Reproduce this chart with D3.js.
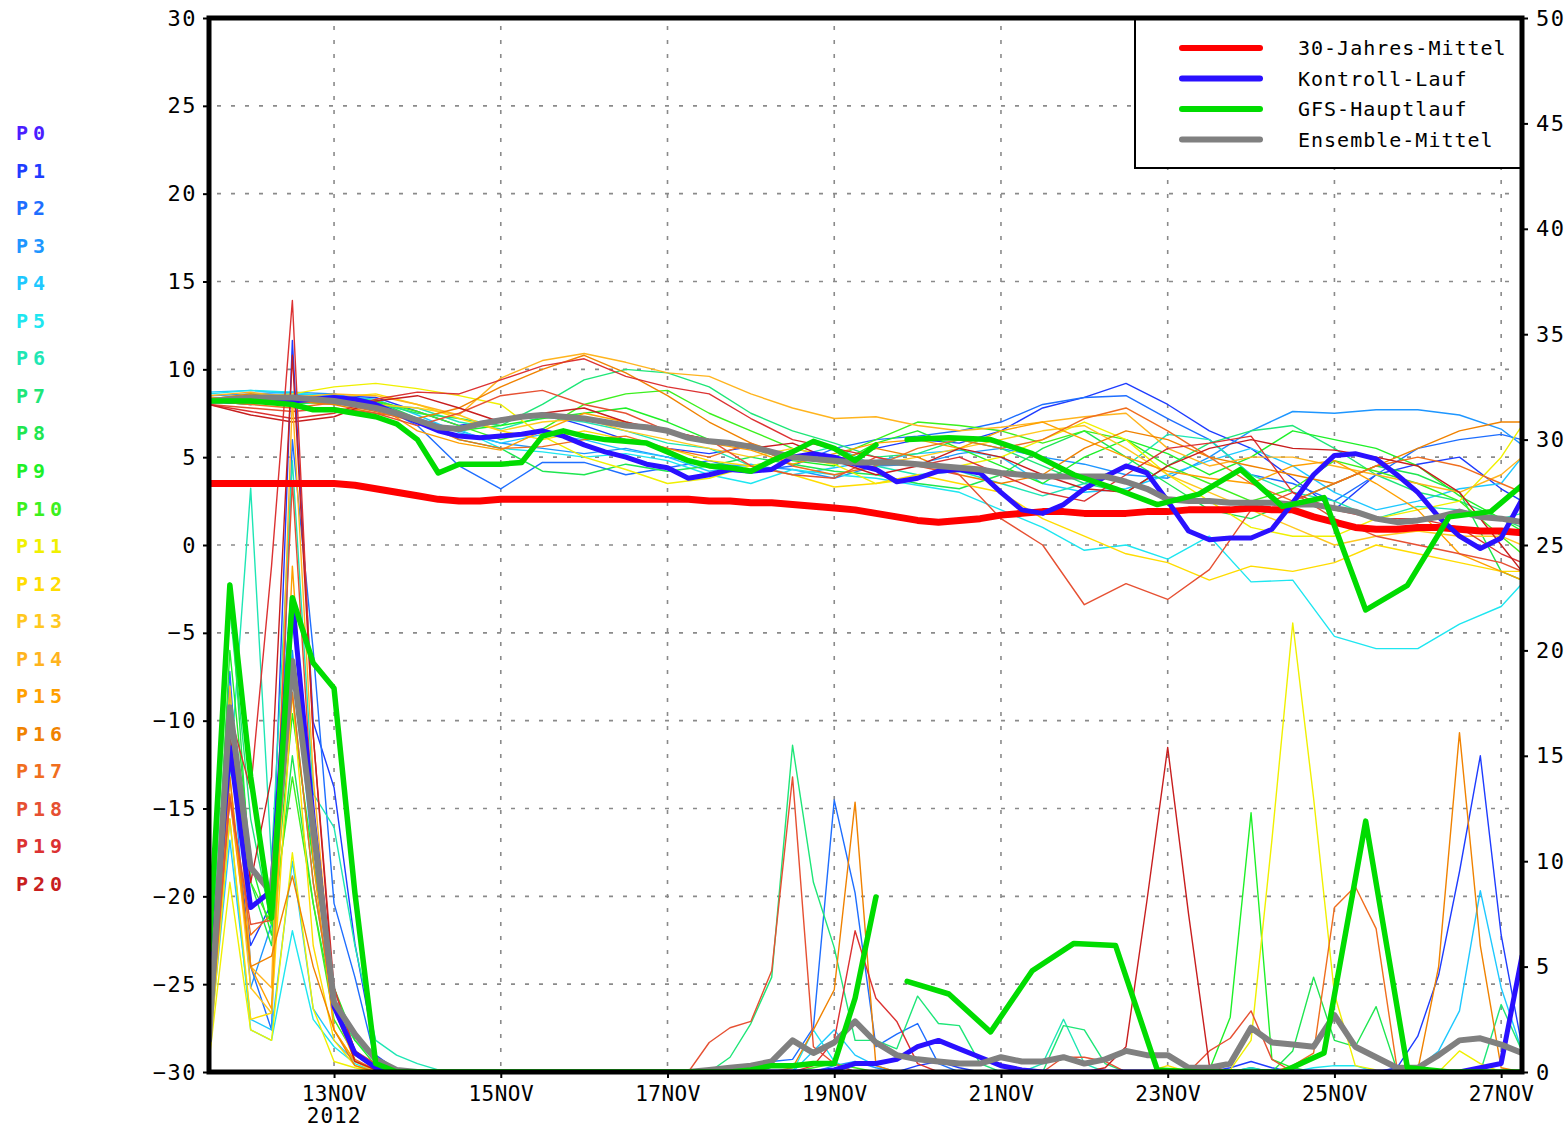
<!DOCTYPE html>
<html>
<head>
<meta charset="utf-8">
<script src="https://cdn.jsdelivr.net/npm/d3@7"></script>
<style>
  body { margin: 0; background: #fff; }
  svg { display: block; }
  text { font-family: 'DejaVu Sans Mono', 'Liberation Mono', monospace; }
</style>
</head>
<body>
<svg id="chart" width="1566" height="1128"></svg>
<script>
// run start 11NOV2012 12Z, 6-hourly steps up to +378h
const runStart = Date.UTC(2012, 10, 11, 12)
const hour = 3600 * 1000
const stepHours = d3.range(0, 379, 6)
const memberHours = d3.range(0, 373, 12).concat([378])
const gfsHours = d3.range(0, 193, 6).concat(d3.range(201, 382, 12))

const dayLabels = ['13NOV', '15NOV', '17NOV', '19NOV', '21NOV', '23NOV', '25NOV', '27NOV']
const dayDates = [13, 15, 17, 19, 21, 23, 25, 27].map(d => new Date(Date.UTC(2012, 10, d)))
const tempTicks = [-30, -25, -20, -15, -10, -5, 0, 5, 10, 15, 20, 25, 30]
const rainTicks = [0, 5, 10, 15, 20, 25, 30, 35, 40, 45, 50]

const legendLabels = ['30-Jahres-Mittel', 'Kontroll-Lauf', 'GFS-Hauptlauf', 'Ensemble-Mittel']
const memberColors = ['#4b1eff', '#1e3cff', '#1e6eff', '#1e96ff', '#1ec8ff', '#1ee6f0', '#1ee6b4',
  '#1ee678', '#1ee650', '#1ef028', '#3cf01e', '#f0f000', '#ffdc00', '#ffc81e', '#ffb41e',
  '#ffa000', '#f08200', '#f06e1e', '#e65032', '#dc3232', '#c81e1e']

// main lines, 6-hourly
const climTemp = [3.5, 3.5, 3.5, 3.5, 3.5, 3.5, 3.5, 3.4, 3.2, 3.0, 2.8, 2.6, 2.5, 2.5, 2.6, 2.6,
  2.6, 2.6, 2.6, 2.6, 2.6, 2.6, 2.6, 2.6, 2.5, 2.5, 2.4, 2.4, 2.3, 2.2, 2.1, 2.0,
  1.8, 1.6, 1.4, 1.3, 1.4, 1.5, 1.7, 1.8, 1.9, 1.9, 1.8, 1.8, 1.8, 1.9, 1.9, 2.0,
  2.0, 2.0, 2.1, 2.0, 2.0, 1.6, 1.3, 1.0, 0.9, 0.9, 1.0, 1.0, 0.9, 0.8, 0.8, 0.7]
const ctrlTemp = [8.2, 8.2, 8.3, 8.4, 8.2, 8.3, 8.4, 8.3, 8.0, 7.5, 7.0, 6.5, 6.2, 6.1, 6.2, 6.3,
  6.5, 6.2, 5.7, 5.3, 5.0, 4.6, 4.4, 3.8, 4.0, 4.3, 4.2, 4.3, 5.0, 5.2, 5.0, 4.6,
  4.3, 3.6, 3.8, 4.2, 4.3, 4.1, 3.0, 2.0, 1.8, 2.3, 3.2, 3.9, 4.5, 4.1, 2.5, 0.8,
  0.3, 0.4, 0.4, 0.9, 2.4, 4.0, 5.1, 5.2, 4.9, 4.0, 3.0, 1.6, 0.5, -0.2, 0.4, 2.6]
const ctrlRain = [3.3, 15.4, 7.8, 8.6, 22.4, 12, 3.1, 0.9, 0.2, 0, 0, 0, 0, 0, 0, 0,
  0, 0, 0, 0, 0, 0, 0, 0, 0, 0, 0, 0, 0, 0, 0.1, 0.4,
  0.4, 0.6, 1.2, 1.5, 1.1, 0.7, 0.3, 0.1, 0, 0, 0, 0, 0, 0, 0, 0,
  0, 0, 0, 0, 0, 0, 0, 0, 0, 0, 0, 0, 0, 0.2, 0.4, 5.5]
const meanTemp = [8.2, 8.3, 8.4, 8.4, 8.4, 8.3, 8.2, 8.0, 7.8, 7.5, 7.1, 6.7, 6.6, 6.9, 7.1, 7.3,
  7.4, 7.3, 7.2, 7.0, 6.8, 6.7, 6.5, 6.1, 5.9, 5.8, 5.6, 5.3, 5.0, 4.9, 4.8, 4.7,
  4.7, 4.7, 4.6, 4.5, 4.4, 4.3, 4.1, 4.0, 3.9, 3.9, 3.9, 3.9, 3.6, 3.2, 2.6, 2.5,
  2.5, 2.4, 2.4, 2.4, 2.3, 2.3, 2.1, 1.9, 1.5, 1.3, 1.4, 1.6, 1.9, 1.6, 1.5, 1.3]
const meanRain = [1.5, 17.3, 9.7, 8.5, 19.5, 11.6, 3.3, 1.8, 0.6, 0.1, 0, 0, 0, 0, 0, 0,
  0, 0, 0, 0, 0, 0, 0, 0, 0.1, 0.2, 0.3, 0.5, 1.5, 0.9, 1.4, 2.4,
  1.4, 0.8, 0.6, 0.5, 0.4, 0.4, 0.7, 0.5, 0.5, 0.7, 0.4, 0.6, 1.0, 0.8, 0.8, 0.2,
  0.2, 0.4, 2.1, 1.4, 1.3, 1.2, 2.7, 1.2, 0.7, 0.2, 0.2, 0.8, 1.5, 1.6, 1.3, 0.9]

// GFS main run: 6-hourly to +192h, 12-hourly after
const gfsTemp = [8.2, 8.2, 8.2, 8.1, 8.0, 7.7, 7.7, 7.5, 7.3, 6.9, 6.0, 4.1, 4.6, 4.6, 4.6, 4.7,
  6.2, 6.5, 6.2, 6.0, 5.9, 5.8, 5.3, 4.8, 4.5, 4.4, 4.2, 4.8, 5.3, 5.9, 5.5, 4.8, 5.7,
  6.0, 6.1, 6.0, 5.2, 4.0, 3.2, 2.3, 2.9, 4.3, 2.2, 2.7, -3.7, -2.3, 1.6, 1.9, 3.9]
const gfsRain = [5.8, 23.1, 14, 7.3, 22.5, 19.4, 18.2, 8.5, 0.4, 0, 0, 0, 0, 0, 0, 0,
  0, 0, 0, 0, 0, 0, 0, 0, 0, 0, 0.1, 0.3, 0.3, 0.4, 0.4, 3.5, 8.3,
  4.3, 3.7, 1.9, 4.8, 6.1, 6.0, 0.1, 0, 0, 0, 0.9, 11.9, 0.2, 0, 0, 0]

// members, temperature 12-hourly (+378h last)
const p1Temp = [8.2, 8.0, 8.3, 8.5, 8.4, 7.6, 6.8, 7.2, 7.5, 6.8, 6.0, 5.5, 5.2, 5.6, 5.0, 4.8,
  5.5, 6.0, 5.8, 6.5, 7.8, 8.4, 9.2, 8.0, 6.5, 5.5, 3.8, 2.0, 4.0, 4.6, 5.0, 3.2, 2.5]
const p2Temp = [8.3, 8.1, 8.2, 8.6, 8.0, 6.8, 4.5, 3.2, 4.7, 4.7, 4.0, 4.4, 4.8, 4.2, 4.5, 5.5,
  6.0, 6.2, 6.5, 7.0, 8.0, 8.4, 8.5, 7.2, 6.0, 4.0, 3.5, 2.5, 4.0, 5.5, 6.0, 6.3, 6.0]
const p3Temp = [8.5, 8.6, 8.7, 8.6, 8.0, 7.2, 6.5, 5.8, 5.5, 5.2, 5.5, 5.0, 4.6, 4.5, 4.3, 3.8,
  4.5, 4.6, 5.2, 5.5, 5.0, 4.6, 4.0, 3.8, 5.0, 6.5, 7.6, 7.5, 7.7, 7.7, 7.4, 6.6, 5.7]
const p4Temp = [8.7, 8.8, 8.6, 8.5, 8.3, 7.4, 6.4, 5.8, 6.3, 6.0, 5.4, 5.0, 4.2, 4.6, 4.0, 4.4,
  4.8, 5.2, 5.4, 5.0, 3.5, 3.0, 3.2, 4.0, 4.8, 5.5, 4.5, 3.0, 2.0, 2.5, 3.2, 3.5, 5.0]
const p5Temp = [8.6, 8.8, 8.7, 8.4, 8.2, 7.0, 6.6, 5.5, 5.3, 5.0, 5.2, 4.8, 4.0, 3.5, 4.3, 4.0,
  3.8, 3.4, 3.0, 2.0, 1.0, -0.3, 0.0, -0.8, 0.5, -2.1, -2.0, -5.2, -5.9, -5.9, -4.5, -3.5, -2.2]
const p6Temp = [8.3, 8.5, 8.0, 8.2, 8.0, 7.8, 7.0, 6.6, 7.3, 7.0, 6.5, 5.8, 5.5, 4.5, 5.0, 5.6,
  4.5, 4.0, 4.2, 3.5, 2.8, 3.5, 4.5, 6.3, 6.0, 4.0, 3.0, 2.5, 1.5, 2.2, 2.0, 1.5, 1.8]
const p7Temp = [8.2, 8.0, 8.4, 8.3, 8.1, 7.5, 7.2, 6.8, 8.0, 9.4, 10.0, 9.8, 9.0, 7.5, 6.5, 5.8,
  5.0, 5.2, 6.0, 5.5, 4.5, 3.5, 3.0, 4.5, 5.8, 6.5, 6.8, 5.5, 4.0, 3.0, 2.5, 1.5, 1.0]
const p8Temp = [8.2, 8.3, 8.1, 8.5, 8.2, 7.2, 6.0, 5.5, 4.2, 4.0, 4.6, 4.2, 4.5, 5.0, 4.6, 4.2,
  4.0, 3.5, 3.2, 4.0, 5.5, 6.5, 5.0, 3.5, 2.0, 1.5, 2.5, 3.5, 4.5, 4.0, 3.0, -1.5, -2.0]
const p9Temp = [8.4, 8.2, 8.0, 8.3, 7.8, 7.0, 6.5, 6.8, 7.2, 7.5, 7.8, 7.0, 6.0, 5.5, 4.8, 4.5,
  5.8, 6.5, 5.5, 4.5, 3.5, 5.0, 6.0, 5.2, 4.0, 5.0, 6.5, 6.0, 5.5, 4.5, 2.8, 1.5, 0.8]
const p10Temp = [8.3, 8.4, 8.2, 8.0, 8.2, 7.6, 6.8, 6.0, 6.6, 8.0, 8.6, 8.8, 7.5, 6.5, 5.5, 5.0,
  6.0, 7.0, 6.8, 6.5, 5.8, 6.5, 6.0, 4.5, 3.5, 2.5, 3.2, 4.8, 4.2, 3.5, 2.5, 0.5, -0.5]
const p11Temp = [8.2, 8.4, 8.6, 9.0, 9.2, 8.9, 8.5, 8.0, 6.2, 5.0, 4.3, 3.5, 3.8, 4.5, 5.0, 4.6,
  3.5, 3.8, 4.5, 5.0, 6.0, 7.0, 6.0, 4.0, 2.5, 1.0, 0.5, 0.5, 1.5, 2.0, 2.5, 5.0, 6.8]
const p12Temp = [8.1, 8.5, 8.3, 8.4, 8.6, 8.0, 7.2, 6.5, 6.0, 6.5, 6.0, 5.5, 4.8, 4.5, 4.0, 3.3,
  3.5, 4.0, 3.5, 3.0, 1.5, 0.5, -0.5, -1.0, -2.0, -1.2, -1.5, -1.0, 0.0, -0.5, -1.0, -1.5, -1.5]
const p13Temp = [8.3, 8.6, 8.5, 8.3, 8.0, 7.8, 7.4, 6.5, 7.0, 7.2, 6.5, 6.0, 5.5, 5.0, 5.5, 5.0,
  4.6, 5.0, 5.5, 6.0, 6.5, 6.8, 5.5, 4.0, 3.0, 2.0, 1.0, 0.0, 0.5, 0.8, 0.5, 0.5, 0.0]
const p14Temp = [8.5, 8.7, 8.4, 8.6, 8.5, 8.0, 7.4, 9.5, 10.5, 10.9, 10.4, 9.8, 9.6, 8.6, 7.8, 7.2,
  7.3, 6.8, 6.5, 6.7, 7.0, 7.3, 7.5, 5.5, 4.5, 5.0, 5.0, 4.5, 4.0, 3.5, 3.0, 4.0, 5.0]
const p15Temp = [8.4, 8.3, 8.5, 8.4, 8.0, 6.5, 5.8, 5.4, 6.5, 7.5, 7.0, 6.4, 5.8, 5.4, 4.6, 5.2,
  5.8, 6.0, 5.5, 6.5, 7.0, 6.0, 5.0, 4.2, 3.8, 3.5, 4.5, 4.8, 3.5, 2.0, -0.5, -1.5, -2.0]
const p16Temp = [8.3, 8.6, 8.2, 8.0, 7.5, 7.2, 7.8, 9.0, 10.0, 10.8, 9.8, 8.5, 7.0, 5.8, 5.0, 4.8,
  5.5, 5.0, 4.0, 3.5, 4.0, 5.5, 6.5, 6.0, 5.0, 4.5, 4.0, 3.5, 4.5, 5.5, 6.5, 7.0, 7.0]
const p17Temp = [8.2, 8.0, 7.8, 8.1, 7.6, 7.0, 6.0, 5.5, 5.6, 6.0, 6.2, 5.5, 5.0, 5.8, 4.5, 4.0,
  4.5, 5.5, 6.0, 5.5, 6.0, 7.2, 7.8, 6.5, 5.0, 3.5, 2.5, 3.5, 4.5, 5.0, 4.5, 3.5, 3.0]
const p18Temp = [8.0, 7.8, 7.6, 7.8, 7.5, 6.8, 7.5, 8.5, 8.8, 8.0, 7.5, 6.5, 6.0, 4.5, 4.0, 3.8,
  5.0, 4.5, 4.0, 1.5, 0.0, -3.4, -2.2, -3.1, -1.4, 2.0, 3.0, 1.5, 0.5, 0.0, -0.5, -1.0, -1.5]
const p19Temp = [8.0, 7.6, 7.2, 7.5, 8.3, 8.7, 8.6, 9.4, 10.2, 10.6, 9.6, 9.0, 8.6, 7.2, 6.0, 5.5,
  5.0, 4.5, 5.0, 4.0, 3.0, 2.5, 4.0, 5.5, 5.8, 6.2, 3.0, 2.0, 1.5, 1.5, 1.0, -0.5, -1.0]
const p20Temp = [8.0, 7.4, 7.0, 7.3, 8.2, 8.5, 7.8, 7.0, 7.5, 7.8, 7.0, 6.5, 6.0, 5.5, 5.8, 4.8,
  4.0, 4.5, 5.5, 5.0, 4.0, 3.2, 3.0, 4.5, 5.5, 6.0, 5.5, 5.4, 5.0, 4.5, 3.0, 0.0, -1.5]

// members, precipitation 6-hourly
const p1Rain = [1.0, 13, 6, 8, 34.7, 16.6, 13.5, 6.1, 0.8, 0.1, 0, 0, 0, 0, 0, 0,
  0, 0, 0, 0, 0, 0, 0, 0, 0, 0, 0, 0, 0, 0, 0, 0,
  0, 0, 0.3, 0.5, 0.2, 0, 0, 0, 0, 0, 0, 0, 0, 0, 0, 0,
  0, 0.2, 0.5, 0.2, 0, 0, 0, 0, 0, 0.2, 1.7, 4.6, 9.5, 15.0, 6.5, 1.2]
const p2Rain = [1.5, 19, 5, 2, 30, 20, 8, 4.5, 0.5, 0, 0, 0, 0, 0, 0, 0,
  0, 0, 0, 0, 0, 0, 0, 0, 0, 0, 0, 0.5, 0.6, 2.1, 12.9, 8.5,
  1.2, 1.8, 2.3, 0.4, 0, 0, 0, 0, 0, 0, 0, 0, 0, 0, 0, 0,
  0, 0, 0.2, 0, 0, 0, 0, 0, 0, 0, 0, 0, 0, 0, 0, 0]
const p3Rain = [0.5, 16, 4, 7, 20, 10, 4, 1.0, 0.2, 0, 0, 0, 0, 0, 0, 0,
  0, 0, 0, 0, 0, 0, 0, 0, 0, 0, 0, 0, 0, 0, 0.3, 0.5,
  0.2, 0, 0, 0, 0, 0, 0, 0, 0, 0, 0, 0, 0, 0, 0, 0,
  0, 0, 0, 0, 0, 0, 0, 0, 0, 0, 0, 0, 0, 0, 0, 0]
const p4Rain = [1.0, 11, 2.5, 2.0, 10, 3, 1.5, 0.5, 0.1, 0, 0, 0, 0, 0, 0, 0,
  0, 0, 0, 0, 0, 0, 0, 0, 0, 0, 0, 0, 0, 1.0, 2.0, 0.8,
  0.3, 0, 0, 0, 0, 0, 0, 0, 0, 0, 0, 0, 0, 0, 0, 0,
  0, 0, 0, 0, 0, 0, 0, 0, 0, 0, 0.2, 1.0, 2.9, 8.6, 4.0, 1.0]
const p5Rain = [1.0, 12, 2, 1.5, 6.7, 2.5, 1.2, 0.4, 0, 0, 0, 0, 0, 0, 0, 0,
  0, 0, 0, 0, 0, 0, 0, 0, 0, 0, 0, 0, 0, 2.0, 0.5, 0,
  0, 0, 0, 0, 0, 0, 0, 0, 0, 0, 0, 0, 0, 0, 0, 0,
  0, 0, 0, 0, 0, 0.2, 0.3, 0.3, 0, 0, 0, 0, 0, 0, 0, 0]
const p6Rain = [2, 14, 27.7, 10, 29, 13.2, 11.6, 6.0, 1.5, 0.8, 0.4, 0.1, 0, 0, 0, 0,
  0, 0, 0, 0, 0, 0, 0, 0, 0, 0, 0, 0, 0, 0, 0, 0,
  0, 0, 0, 0, 0, 0, 0, 0, 0.4, 2.5, 0.4, 0, 0, 0, 0, 0,
  0, 0, 0.2, 0, 0, 0, 0, 0, 0, 0, 0, 0, 0, 0, 0, 0]
const p7Rain = [3, 22, 12, 7, 18, 9, 3, 1.5, 0.5, 0, 0, 0, 0, 0, 0, 0,
  0, 0, 0, 0, 0, 0, 0, 0, 0, 0.7, 2.3, 4.5, 15.5, 9.0, 5.9, 1.5,
  1.5, 1.1, 3.6, 2.3, 2.2, 0.4, 0, 0, 0, 2.2, 2.0, 0.4, 0, 0, 0, 0,
  0, 0, 0, 0, 0, 0, 0, 0, 0, 0, 0, 0, 0, 0, 3.2, 1.0]
const p8Rain = [5, 23.2, 9, 6, 15, 8, 3, 1.0, 0.3, 0, 0, 0, 0, 0, 0, 0,
  0, 0, 0, 0, 0, 0, 0, 0, 0, 0, 0, 0, 0, 0, 0, 0,
  0, 0, 0, 0, 0, 0, 0, 0, 0, 0, 0, 0, 0, 0, 0, 0,
  0, 0, 0, 0, 1.0, 4.5, 1.5, 1.2, 3.1, 0.1, 0, 0, 0, 0, 0, 0]
const p9Rain = [2, 20, 10, 6.5, 17, 10, 4, 1.5, 0.3, 0, 0, 0, 0, 0, 0, 0,
  0, 0, 0, 0, 0, 0, 0, 0, 0, 0, 0, 0, 0, 0, 0, 0,
  0, 0, 0, 0, 0, 0, 0, 0, 0, 0, 0, 0, 0, 0, 0, 0,
  0.1, 2.6, 12.3, 0.6, 0.2, 0, 0, 0, 0, 0, 0, 0, 0, 0, 0, 0]
const p10Rain = [3, 18, 9, 7, 14, 8, 2.5, 0.8, 0.2, 0, 0, 0, 0, 0, 0, 0,
  0, 0, 0, 0, 0, 0, 0, 0, 0, 0, 0, 0, 0, 0.2, 0.4, 0.2,
  0, 0, 0, 0, 0, 0, 0, 0, 0, 0, 0, 0, 0, 0, 0, 0,
  0, 0, 0, 0, 0, 0, 0, 0, 0, 0, 0, 0, 0, 0, 0, 0]
const p11Rain = [0.5, 9, 2, 1.5, 10.4, 3, 0.5, 0.2, 0, 0, 0, 0, 0, 0, 0, 0,
  0, 0, 0, 0, 0, 0, 0, 0, 0, 0, 0, 0, 0, 0, 0, 0,
  0, 0, 0, 0, 0, 0, 0, 0, 0, 0, 0, 0, 0, 0, 0, 0,
  0, 0.1, 1.5, 11, 21.3, 13, 3.7, 0.3, 0.1, 0, 0, 0, 1.0, 0.4, 0, 0]
const p12Rain = [0.5, 12, 2.5, 2.8, 18, 6, 1.5, 0.3, 0, 0, 0, 0, 0, 0, 0, 0,
  0, 0, 0, 0, 0, 0, 0, 0, 0, 0, 0, 0, 0, 0, 0, 0,
  0, 0, 0, 0, 0, 0, 0, 0, 0, 0, 0, 0, 0, 0, 0.3, 0,
  0, 0, 0, 0, 0, 0, 0, 0, 0, 0, 0, 0, 0, 0, 0, 0]
const p13Rain = [1, 14, 4, 2.8, 22, 12, 2, 0.5, 0, 0, 0, 0, 0, 0, 0, 0,
  0, 0, 0, 0, 0, 0, 0, 0, 0, 0, 0, 0, 0, 0, 0, 0,
  0, 0, 0, 0, 0, 0, 0, 0, 0, 0, 0, 0, 0, 0, 0, 0,
  0, 0, 0, 0, 0, 0, 0, 0, 0, 0, 0, 0, 0, 0, 0, 0]
const p14Rain = [1, 18.3, 5, 4, 32, 14, 3, 0.5, 0.1, 0, 0, 0, 0, 0, 0, 0,
  0, 0, 0, 0, 0, 0, 0, 0, 0, 0, 0, 0, 0, 0, 0, 0,
  0, 0, 0, 0, 0, 0, 0, 0, 0, 0, 0, 0, 0, 0, 0, 0,
  0, 0, 0, 0, 0, 0, 0, 0, 0, 0, 0, 0, 0, 0, 0, 0]
const p15Rain = [1, 13, 5, 3, 24, 10, 2, 0.5, 0.1, 0, 0, 0, 0, 0, 0, 0,
  0, 0, 0, 0, 0, 0, 0, 0, 0, 0, 0, 0, 0, 0, 0, 0,
  0, 0, 0, 0, 0, 0, 0, 0, 0, 0, 0, 0, 0, 0, 0, 0,
  0, 0, 0, 0, 0, 0, 0, 0, 0, 0, 0, 0, 0, 0, 0, 0]
const p16Rain = [1, 14, 5, 5.5, 9.3, 5, 2, 0.3, 0, 0, 0, 0, 0, 0, 0, 0,
  0, 0, 0, 0, 0, 0, 0, 0, 0, 0, 0, 0, 0.2, 2.0, 3.9, 12.8,
  0.3, 0, 0, 0, 0, 0, 0, 0, 0, 0, 0, 0, 0, 0, 0, 0,
  0, 0, 0, 0, 0, 0, 0, 0, 0, 0, 0.1, 5.0, 16.1, 6.0, 0.2, 0]
const p17Rain = [1, 13.2, 6.5, 7.5, 18, 9, 3, 0.6, 0.1, 0, 0, 0, 0, 0, 0, 0,
  0, 0, 0, 0, 0, 0, 0, 0, 0, 0, 0, 0, 0, 0, 0, 0,
  0, 0, 0, 0, 0, 0, 0, 0, 0, 0, 0, 0, 0, 0, 0, 0,
  0, 0, 0, 0, 0.3, 0.9, 7.8, 8.8, 6.8, 0.2, 0, 0, 0, 0, 0, 0]
const p18Rain = [1.5, 13, 7, 7.2, 28, 12, 4, 1.0, 0.4, 0, 0, 0, 0, 0, 0, 0,
  0, 0, 0, 0, 0, 0, 0, 0, 1.4, 2.1, 2.4, 4.8, 14.0, 1.2, 0.4, 0,
  0, 0, 0, 0, 0, 0, 0, 0, 0, 0.7, 0.7, 0.5, 0, 0, 0, 0,
  1.0, 1.6, 2.9, 0.6, 0, 0, 0, 0, 0, 0, 0, 0, 0, 0, 0, 0]
const p19Rain = [2, 17, 13.4, 24, 36.6, 16, 4, 1, 0.2, 0, 0, 0, 0, 0, 0, 0,
  0, 0, 0, 0, 0, 0, 0, 0, 0, 0, 0, 0, 0, 0.3, 1.5, 6.7,
  3.5, 2.4, 0.4, 0, 0, 0, 0, 0, 0, 0, 0, 0, 0, 0, 0, 0,
  0, 0, 0, 0, 0, 0, 0, 0, 0, 0, 0, 0, 0, 0, 0, 0]
const p20Rain = [1.5, 16, 9, 14, 34, 16, 3.5, 0.5, 0.1, 0, 0, 0, 0, 0, 0, 0,
  0, 0, 0, 0, 0, 0, 0, 0, 0, 0, 0, 0, 0, 0, 0, 0,
  0, 0, 0, 0, 0, 0, 0, 0, 0, 0, 0, 0.2, 1.2, 8.1, 15.4, 7.5,
  0.3, 0, 0, 0, 0, 0, 0, 0, 0, 0, 0, 0, 0, 0, 0, 0]

const memberTemps = [p1Temp, p2Temp, p3Temp, p4Temp, p5Temp, p6Temp, p7Temp, p8Temp, p9Temp, p10Temp,
  p11Temp, p12Temp, p13Temp, p14Temp, p15Temp, p16Temp, p17Temp, p18Temp, p19Temp, p20Temp]
const memberRains = [p1Rain, p2Rain, p3Rain, p4Rain, p5Rain, p6Rain, p7Rain, p8Rain, p9Rain, p10Rain,
  p11Rain, p12Rain, p13Rain, p14Rain, p15Rain, p16Rain, p17Rain, p18Rain, p19Rain, p20Rain]

const plotLeft = 209
const plotRight = 1522
const plotTop = 18
const plotBottom = 1072

const svg = d3.select('#chart')

const x = d3.scaleUtc()
  .domain([new Date(runStart), new Date(runStart + 378 * hour)])
  .range([plotLeft, plotRight])
const yT = d3.scaleLinear().domain([-30, 30]).range([plotBottom, plotTop])
const yP = d3.scaleLinear().domain([0, 50]).range([plotBottom, plotTop])

function seriesLine(hours, scale) {
  return d3.line()
    .x((d, i) => x(new Date(runStart + hours[i] * hour)))
    .y(d => scale(d))
}

svg.append('defs').append('clipPath')
  .attr('id', 'plot-clip')
  .append('rect')
  .attr('x', plotLeft)
  .attr('y', plotTop)
  .attr('width', plotRight - plotLeft)
  .attr('height', plotBottom - plotTop)

// grid
const grid = svg.append('g')
grid.selectAll('.hgrid')
  .data(tempTicks.filter(t => t > -30 && t < 30))
  .enter().append('line')
  .attr('x1', plotLeft + 8)
  .attr('x2', plotRight - 6)
  .attr('y1', d => yT(d))
  .attr('y2', d => yT(d))
  .attr('stroke', '#8a8a8a')
  .attr('stroke-width', 1.6)
  .attr('stroke-dasharray', '4,10')

grid.selectAll('.vgrid')
  .data(dayDates)
  .enter().append('line')
  .attr('x1', d => x(d))
  .attr('x2', d => x(d))
  .attr('y1', plotTop + 8)
  .attr('y2', plotBottom - 4)
  .attr('stroke', '#8a8a8a')
  .attr('stroke-width', 1.6)
  .attr('stroke-dasharray', '4,10')

// data
const plot = svg.append('g').attr('clip-path', 'url(#plot-clip)')

function thin(d, color) {
  plot.append('path')
    .attr('d', d)
    .attr('fill', 'none')
    .attr('stroke', color)
    .attr('stroke-width', 1.4)
    .attr('stroke-linejoin', 'round')
}

function thick(d, color, width) {
  plot.append('path')
    .attr('d', d)
    .attr('fill', 'none')
    .attr('stroke', color)
    .attr('stroke-width', width)
    .attr('stroke-linejoin', 'round')
    .attr('stroke-linecap', 'round')
}

// P0 is the control run
thin(seriesLine(stepHours, yT)(ctrlTemp), memberColors[0])
thin(seriesLine(stepHours, yP)(ctrlRain), memberColors[0])
memberTemps.forEach((temps, j) => thin(seriesLine(memberHours, yT)(temps), memberColors[j + 1]))
memberRains.forEach((rain, j) => thin(seriesLine(stepHours, yP)(rain), memberColors[j + 1]))

thick(seriesLine(stepHours, yT)(climTemp), '#ff0000', 7)
thick(seriesLine(stepHours, yT)(ctrlTemp), '#2a10ff', 5)
thick(seriesLine(stepHours, yP)(ctrlRain), '#2a10ff', 5)
thick(seriesLine(stepHours, yT)(meanTemp), '#808080', 6)
thick(seriesLine(stepHours, yP)(meanRain), '#808080', 6)
// GFS has a gap between +192h and +201h
const gfsSplit = 33
thick(seriesLine(gfsHours.slice(0, gfsSplit), yT)(gfsTemp.slice(0, gfsSplit)), '#00dc00', 5.5)
thick(seriesLine(gfsHours.slice(gfsSplit), yT)(gfsTemp.slice(gfsSplit)), '#00dc00', 5.5)
thick(seriesLine(gfsHours.slice(0, gfsSplit), yP)(gfsRain.slice(0, gfsSplit)), '#00dc00', 5.5)
thick(seriesLine(gfsHours.slice(gfsSplit), yP)(gfsRain.slice(gfsSplit)), '#00dc00', 5.5)

// axes
const leftAxis = svg.append('g')
  .attr('transform', `translate(${plotLeft},0)`)
  .call(d3.axisLeft(yT).tickValues(tempTicks).tickSize(6).tickPadding(6))
const rightAxis = svg.append('g')
  .attr('transform', `translate(${plotRight},0)`)
  .call(d3.axisRight(yP).tickValues(rainTicks).tickSize(6).tickPadding(8))
const bottomAxis = svg.append('g')
  .attr('transform', `translate(0,${plotBottom})`)
  .call(d3.axisBottom(x).tickValues(dayDates).tickFormat((d, i) => dayLabels[i]).tickSize(6).tickPadding(8))

;[leftAxis, rightAxis, bottomAxis].forEach(a => {
  a.select('.domain').remove()
  a.selectAll('line').attr('stroke', '#000').attr('stroke-width', 2)
  a.selectAll('text')
    .attr('fill', '#000')
    .attr('font-family', "'DejaVu Sans Mono', monospace")
    .attr('font-size', 21)
    .attr('letter-spacing', 0.5)
})
leftAxis.selectAll('text').attr('font-size', 22).attr('letter-spacing', 1.5)
rightAxis.selectAll('text').attr('font-size', 22).attr('letter-spacing', 1.5)

svg.append('text')
  .attr('x', x(dayDates[0]))
  .attr('y', 1123)
  .attr('text-anchor', 'middle')
  .attr('font-size', 21)
  .attr('letter-spacing', 1)
  .text('2012')

// legend
const legend = svg.append('g')
legend.append('rect')
  .attr('x', 1135)
  .attr('y', plotTop)
  .attr('width', plotRight - 1135)
  .attr('height', 150)
  .attr('fill', '#fff')
  .attr('stroke', '#000')
  .attr('stroke-width', 2)

const legendColors = ['#ff0000', '#2a10ff', '#00dc00', '#808080']
legendLabels.forEach((label, i) => {
  const ly = 48 + i * 30.5
  legend.append('line')
    .attr('x1', 1182)
    .attr('x2', 1260)
    .attr('y1', ly)
    .attr('y2', ly)
    .attr('stroke', legendColors[i])
    .attr('stroke-width', 6)
    .attr('stroke-linecap', 'round')
  legend.append('text')
    .attr('x', 1298)
    .attr('y', ly + 7)
    .attr('font-size', 20)
    .attr('letter-spacing', 1)
    .attr('fill', '#000')
    .text(label)
})

// frame
svg.append('rect')
  .attr('x', plotLeft)
  .attr('y', plotTop)
  .attr('width', plotRight - plotLeft)
  .attr('height', plotBottom - plotTop)
  .attr('fill', 'none')
  .attr('stroke', '#000')
  .attr('stroke-width', 5)

// member labels on the left
svg.append('g').selectAll('text')
  .data(memberColors)
  .enter().append('text')
  .attr('x', 16)
  .attr('y', (d, i) => 133 + i * 37.55 + 7)
  .attr('font-size', 20)
  .attr('font-weight', 'bold')
  .attr('letter-spacing', 5)
  .attr('fill', d => d)
  .text((d, i) => 'P' + i)
</script>
</body>
</html>
